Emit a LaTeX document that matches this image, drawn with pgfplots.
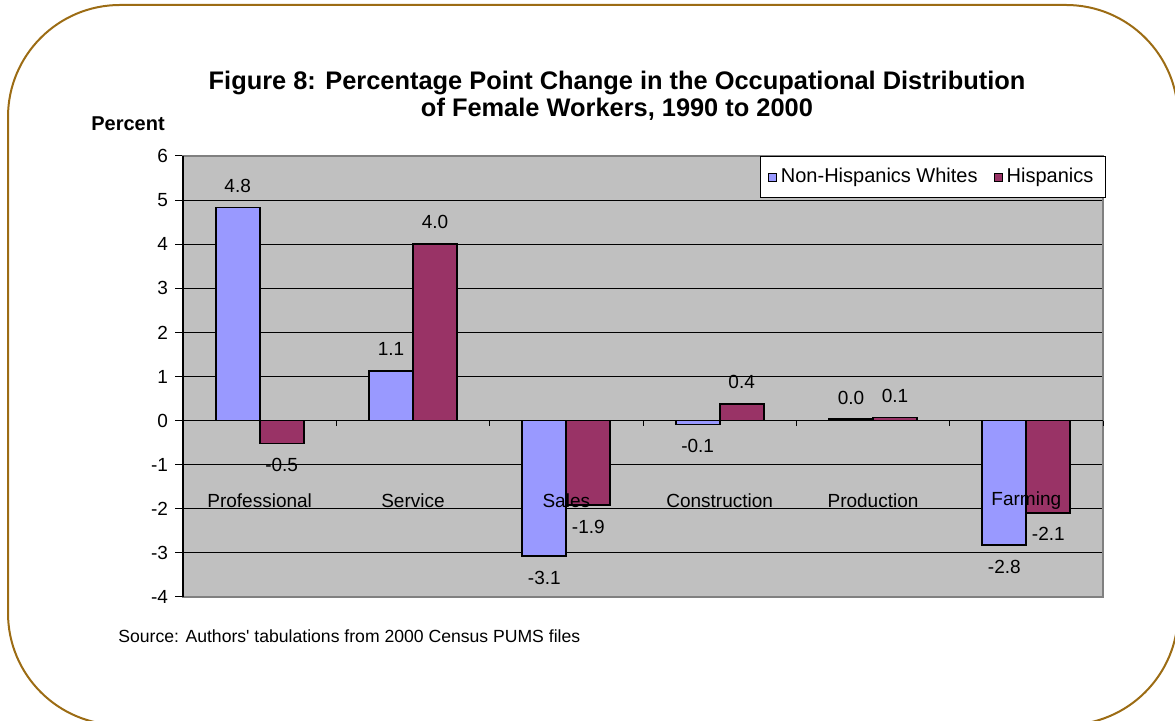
\documentclass[border=0pt]{standalone}
\usepackage{pgfplots}
\pgfplotsset{compat=1.18}
\usepackage{fontspec}
\setmainfont{Liberation Sans}[Ligatures=TeXOff]
\definecolor{nhw}{HTML}{9999FF}
\definecolor{hisp}{HTML}{993366}
\definecolor{plotbg}{HTML}{C0C0C0}
\definecolor{framec}{HTML}{9C6C14}
\definecolor{axgray}{HTML}{808080}
\pgfplotsset{
  layers/labelsontop/.define layer set={axis background,axis grid,axis ticks,axis lines,pre main,main,axis tick labels,axis descriptions,axis foreground}{/pgfplots/layers/standard},
}

\begin{document}
\begin{tikzpicture}[x=1pt,y=1pt]
\begin{scope}
\clip (0,0) rectangle (587.5,360.5);
\draw[framec, line width=1pt, rounded corners=56pt] (4,-2) rectangle (589,358);
\end{scope}
\node[font=\bfseries\fontsize{12.7}{13.5}\selectfont, align=center] at (308.5,312.5)
  {Figure 8: Percentage Point Change in the Occupational Distribution\\of Female Workers, 1990 to 2000};
\node[font=\bfseries\fontsize{10}{12}\selectfont] at (64,298.5) {Percent};
\node[font=\fontsize{8.8}{10}\selectfont, anchor=west, inner sep=0pt] at (59,42.5)
  {Source: Authors' tabulations from 2000 Census PUMS files};
\begin{axis}[
  set layers=labelsontop,
  at={(91.5pt,62pt)}, anchor=south west,
  scale only axis, width=460pt, height=220.5pt,
  xmin=-0.5, xmax=5.5, ymin=-4, ymax=6,
  ytick={-4,-3,...,6},
  xtick={0,1,2,3,4,5},
  xticklabels={Professional,Service,Sales,Construction,Production,Farming},
  xtick style={draw=none},
  xticklabel style={anchor=center, yshift=52pt, font=\fontsize{9.5}{11}\selectfont},
  yticklabel style={font=\fontsize{9.5}{11}\selectfont},
  /pgf/number format/assume math mode=true,
  ytick pos=left, tick align=outside, major tick length=4pt,
  ytick style={black, line width=0.5pt},
  ymajorgrids, grid style={black, line width=0.5pt},
  axis background/.style={fill=plotbg},
  axis line style={axgray, line width=0.7pt},
  ybar=0pt, bar width=22pt,
  nodes near coords={\pgfmathprintnumber[fixed,fixed zerofill,precision=1,assume math mode=true]{\pgfplotspointmeta}},
  every node near coord/.append style={font=\fontsize{9.5}{11}\selectfont, black, inner ysep=7pt},
  legend columns=2,
  legend style={at={(1.003,1)}, anchor=north east, draw=black, fill=white,
    font=\fontsize{10}{12}\selectfont, inner ysep=4pt, inner xsep=4pt,
    /tikz/every even column/.append style={column sep=6pt}},
  legend image code/.code={\draw[#1, draw=black, line width=0.5pt] (0pt,-2pt) rectangle (4pt,2pt);},
  clip=false,
]
\addplot[fill=nhw, draw=black, line width=0.9pt] coordinates {(0,4.83) (1,1.13) (2,-3.07) (3,-0.09) (4,0.03) (5,-2.83)};
\addplot[fill=hisp, draw=black, line width=0.9pt] coordinates {(0,-0.52) (1,4.01) (2,-1.92) (3,0.38) (4,0.07) (5,-2.09)};
\legend{Non-Hispanics Whites, Hispanics}
\draw[black, line width=0.6pt] (axis cs:-0.5,-4) -- (axis cs:-0.5,6);
\draw[black, line width=0.6pt] (axis cs:-0.5,0) -- (axis cs:5.5,0);
\pgfplotsinvokeforeach{-0.5,0.5,1.5,2.5,3.5,4.5,5.5}{\draw[black, line width=0.5pt] (axis cs:#1,0) -- ++(0pt,-2.5pt);}
\end{axis}
\pgfresetboundingbox
\useasboundingbox (0,0) rectangle (587.5,360.5);
\end{tikzpicture}
\end{document}
